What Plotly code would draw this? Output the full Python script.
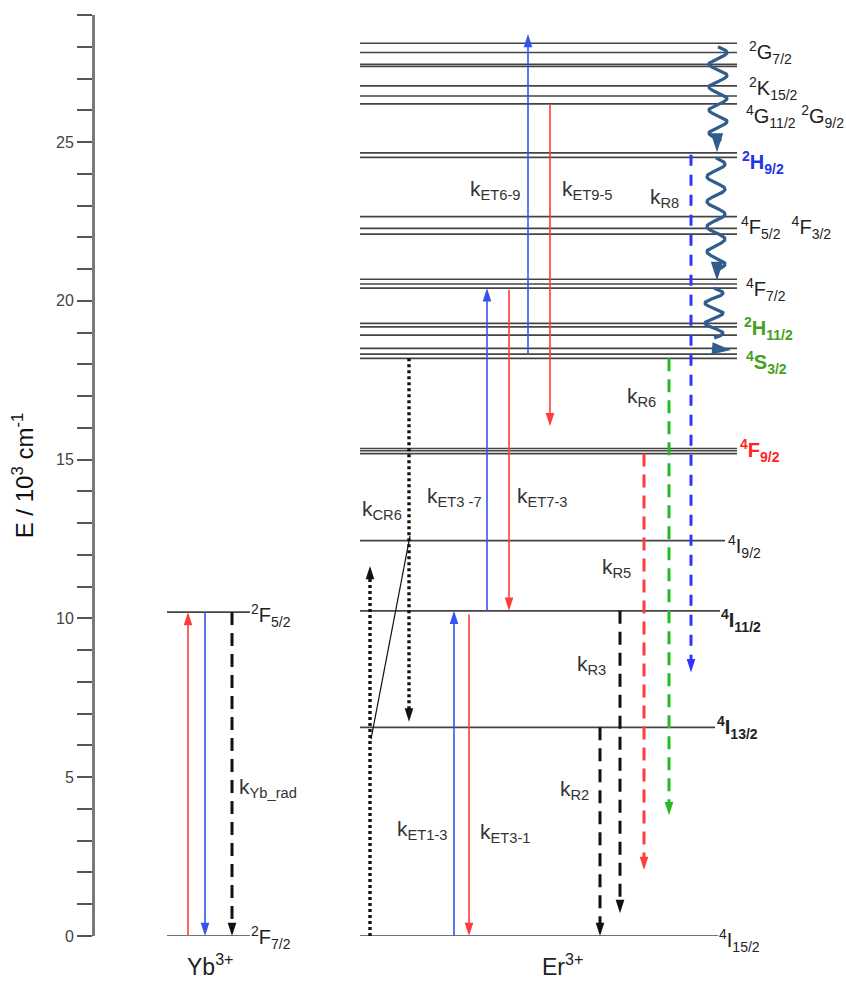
import numpy as np
import plotly.graph_objects as go

FONT = "Liberation Sans, Arial, Helvetica, sans-serif"

# ---- energy levels (10^3 cm^-1) ----
yb_levels = [0.0, 10.2]
er_levels = [0.0, 6.57, 10.24, 12.45,
             15.19, 15.28, 15.35,
             18.19, 18.32, 18.50, 18.92, 19.18, 19.29,
             20.40, 20.53, 20.68,
             22.10, 22.28, 22.65,
             24.52, 24.66,
             26.20, 26.45, 26.77, 27.38, 27.45, 27.82, 28.11]

# ---- term symbols: (text, energy anchor, colour, bold) ----
er_terms = [
    ("<sup>2</sup>G<sub>7/2</sub>", 27.83, "#222222", False),
    ("<sup>2</sup>K<sub>15/2</sub>", 26.70, "#222222", False),
    ("<sup>4</sup>G<sub>11/2</sub> <sup>2</sup>G<sub>9/2</sub>", 25.79, "#222222", False),
    ("<sup>2</sup>H<sub>9/2</sub>", 24.34, "#2233ee", True),
    ("<sup>4</sup>F<sub>5/2</sub>  <sup>4</sup>F<sub>3/2</sub>", 22.32, "#222222", False),
    ("<sup>4</sup>F<sub>7/2</sub>", 20.37, "#222222", False),
    ("<sup>2</sup>H<sub>11/2</sub>", 19.14, "#44a022", True),
    ("<sup>4</sup>S<sub>3/2</sub>", 18.07, "#44a022", True),
    ("<sup>4</sup>F<sub>9/2</sub>", 15.30, "#ff2222", True),
    ("<sup>4</sup>I<sub>9/2</sub>", 12.28, "#222222", False),
    ("<sup>4</sup>I<sub>11/2</sub>", 9.95, "#222222", True),
    ("<sup>4</sup>I<sub>13/2</sub>", 6.55, "#222222", True),
    ("<sup>4</sup>I<sub>15/2</sub>", -0.13, "#222222", False),
]
er_term_x = [747, 747, 744, 740, 739, 744, 742, 744, 738, 726, 719, 715, 717]

yb_terms = [
    ("<sup>2</sup>F<sub>5/2</sub>", 10.10),
    ("<sup>2</sup>F<sub>7/2</sub>", -0.06),
]

# ---- transitions: (name, x column, E start, E end, colour, style) ----
transitions = [
    ("Yb abs",   188, 0.0, 10.2, "red", "solid"),
    ("Yb ET",    205, 10.2, 0.0, "blue", "solid"),
    ("Yb rad",   232, 10.2, 0.0, "black", "dash"),
    ("CR6 up",   370, 0.0, 11.65, "black", "dot"),
    ("CR6 down", 409, 18.19, 6.75, "black", "dot"),
    ("ET1-3",    454, 0.0, 10.24, "blue", "solid"),
    ("ET3-1",    469, 10.12, 0.0, "red", "solid"),
    ("ET3-7",    487, 10.24, 20.40, "blue", "solid"),
    ("ET7-3",    509, 20.35, 10.24, "red", "solid"),
    ("ET6-9",    528, 18.32, 28.40, "blue", "solid"),
    ("ET9-5",    550, 26.20, 16.05, "red", "solid"),
    ("R2",       600, 6.57, 0.0, "black", "dash"),
    ("R3",       620, 10.24, 0.72, "black", "dash"),
    ("R5",       644, 15.19, 2.08, "red", "dash"),
    ("R6",       669, 18.19, 3.80, "green", "dash"),
    ("R8",       691, 24.60, 8.30, "blue", "dash"),
]

# ---- rate labels: (text, x, E) ----
rate_labels = [
    ("k<sub>Yb_rad</sub>", 237, 4.66),
    ("k<sub>CR6</sub>", 360, 13.41),
    ("k<sub>ET3 -7</sub>", 425, 13.82),
    ("k<sub>ET7-3</sub>", 515, 13.82),
    ("k<sub>ET1-3</sub>", 395, 3.34),
    ("k<sub>ET3-1</sub>", 478, 3.24),
    ("k<sub>ET6-9</sub>", 468, 23.49),
    ("k<sub>ET9-5</sub>", 560, 23.49),
    ("k<sub>R8</sub>", 648, 23.24),
    ("k<sub>R6</sub>", 625, 16.97),
    ("k<sub>R5</sub>", 600, 11.59),
    ("k<sub>R3</sub>", 575, 8.53),
    ("k<sub>R2</sub>", 558, 4.60),
]

# ---- non-radiative relaxation cascades: (E start, E end) ----
cascades = [(28.00, 24.68), (24.50, 20.63), (20.40, 18.45)]

ions = [("Yb<sup>3+</sup>", 210), ("Er<sup>3+</sup>", 562)]

# ---------------------------------------------------------------------------
E_MAX = 29.0
colours = {"red": "#ff3b3b", "blue": "#3355ee", "black": "#111111",
           "green": "#22bb22"}
dash_blue = "#3333ff"
wave_col = "#2e5d8e"
level_col = "#444444"

PX_PER_E = (982 - 46 - 15) / E_MAX


def er_line_end(e):
    if e < 1:
        return 718
    if e < 7:
        return 715
    if e < 11:
        return 720
    if e < 13:
        return 725
    return 737


fig = go.Figure()

# level lines
lx, ly = [], []
for e in yb_levels:
    lx += [167, 250, None]
    ly += [e, e, None]
for e in er_levels:
    lx += [360, er_line_end(e), None]
    ly += [e, e, None]
fig.add_trace(go.Scatter(x=lx, y=ly, mode="lines",
                         line=dict(color=level_col, width=1.7),
                         hoverinfo="skip", showlegend=False, cliponaxis=False))

# cross-relaxation connector
fig.add_trace(go.Scatter(x=[371, 410], y=[6.2, 12.6], mode="lines",
                         line=dict(color="#111111", width=1.2),
                         hoverinfo="skip", showlegend=False))

# transitions
HEAD = 14
for name, x, e0, e1, c, style in transitions:
    col = colours[c]
    if style == "solid":
        width, dash = 1.6, "solid"
    elif style == "dash":
        width, dash = 3, "13px,8px"
        if c == "blue":
            col = dash_blue
            dash = "11px,9px"
    else:
        width, dash = 3.4, "3px,3px"
    sign = 1 if e1 > e0 else -1
    # stop the shaft just under the arrowhead
    e_shaft = e1 - sign * (HEAD * 0.8) / PX_PER_E
    fig.add_trace(go.Scatter(x=[x, x], y=[e0, e_shaft], mode="lines",
                             line=dict(color=col, width=width, dash=dash),
                             hoverinfo="skip", showlegend=False, cliponaxis=False))
    fig.add_trace(go.Scatter(x=[x], y=[e1], mode="markers",
                             marker=dict(symbol="arrow", size=HEAD,
                                         angle=0 if sign > 0 else 180,
                                         color=col, line=dict(width=0)),
                             hoverinfo="skip", showlegend=False, cliponaxis=False))

# wavy relaxation arrows
wave_x = [718, 716, 714]
periods = [23, 25, 20]
for (e0, e1), xc, per in zip(cascades, wave_x, periods):
    y_px = np.linspace(0, (e0 - e1) * PX_PER_E - 12, 240)
    xs = xc + 9 * np.sin(2 * np.pi * y_px / per)
    ys = e0 - y_px / PX_PER_E
    fig.add_trace(go.Scatter(x=xs, y=ys, mode="lines",
                             line=dict(color=wave_col, width=3.2),
                             hoverinfo="skip", showlegend=False))
for (e0, e1), xc, ang, tip_dx in zip(cascades, wave_x, [180, 180, 95], [-1, 1, 17]):
    fig.add_trace(go.Scatter(x=[xc + tip_dx], y=[e1],
                             mode="markers",
                             marker=dict(symbol="arrow", size=20, angle=ang,
                                         color=wave_col, line=dict(width=0)),
                             hoverinfo="skip", showlegend=False))

annotations = []


def add_text(txt, x, e, size, col, anchor="left"):
    # paper reference keeps labels below E = 0 visible
    annotations.append(dict(x=x, y=e / E_MAX, xref="x", yref="paper", text=txt,
                            showarrow=False, xanchor=anchor, yanchor="middle",
                            font=dict(family=FONT, size=size, color=col)))


for (txt, e, col, bold), x in zip(er_terms, er_term_x):
    add_text(f"<b>{txt}</b>" if bold else txt, x, e, 20, col)
for txt, e in yb_terms:
    add_text(txt, 249, e, 20, "#222222")
for txt, x, e in rate_labels:
    add_text(txt, x, e, 21, "#333333")
for txt, x in ions:
    add_text(txt, x, -0.9, 23, "#222222", anchor="center")

fig.update_layout(
    width=846, height=982,
    margin=dict(l=95, r=0, t=15, b=46),
    paper_bgcolor="white", plot_bgcolor="white",
    showlegend=False,
    annotations=annotations,
    xaxis=dict(range=[95, 846], visible=False, fixedrange=True),
    yaxis=dict(range=[0, E_MAX], showline=True, linecolor="#7a7a7a", linewidth=3,
               ticks="outside", ticklen=15, tickwidth=1.5, tickcolor="#555555",
               tick0=0, dtick=5,
               minor=dict(dtick=1, ticks="outside", ticklen=15, tickwidth=1.5,
                          tickcolor="#555555", showgrid=False),
               showgrid=False, zeroline=False,
               tickfont=dict(family=FONT, size=16, color="#444444"),
               title=dict(text="E / 10<sup>3</sup> cm<sup>-1</sup>",
                          font=dict(family=FONT, size=24, color="#111111"),
                          standoff=16)),
)

fig.write_html("out.html")
